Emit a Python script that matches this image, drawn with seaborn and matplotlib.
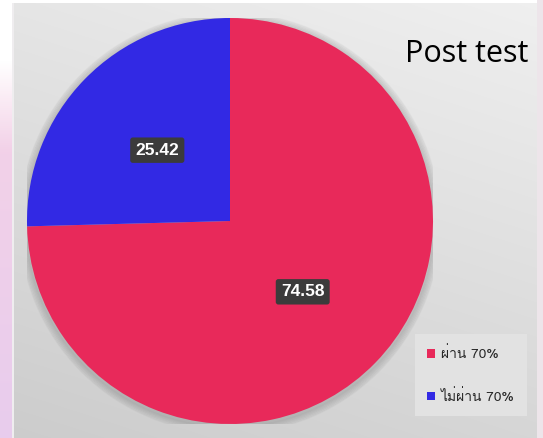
import numpy as np
import matplotlib
matplotlib.use("Agg")
import matplotlib.pyplot as plt
import seaborn as sns
from matplotlib import font_manager as fm
from matplotlib.ft2font import FT2Font
from matplotlib.patches import Circle

# ---- data ----
labels = ["ผ่าน 70%", "ไม่ผ่าน 70%"]
values = [74.58, 25.42]
colors = ["#E8295A", "#3229E4"]
title = "Post test"

sns.set_theme(style="white")

# find a font with Thai glyphs
thai_font = None
for f in fm.fontManager.ttflist:
    try:
        if 0x0E1C in FT2Font(f.fname).get_charmap():
            thai_font = f.name
            break
    except Exception:
        pass
legend_family = ([thai_font] if thai_font else []) + ["Liberation Sans", "DejaVu Sans"]
plt.rcParams["font.family"] = ["Liberation Sans", "DejaVu Sans"]

W, H = 543, 438
fig = plt.figure(figsize=(W / 100, H / 100), dpi=100)
fig.patch.set_facecolor("white")

# background panel (gray gradient) with pink strip on the left
bg = fig.add_axes([0, 0, 1, 1])
bg.set_axis_off()
yy, xx = np.mgrid[0:H, 0:W]
val = 0.80 + 0.10 * (1 - yy / H) + 0.04 * (xx / W)
img = np.dstack([val, val, val])
t = np.clip((yy[:, :12] - 60) / 90.0, 0, 1)[..., None]
s = (yy[:, :12] / H)[..., None]
pink = np.array([0.97, 0.83, 0.90]) * (1 - s) + np.array([0.91, 0.80, 0.93]) * s
img[:, :12] = (1 - t) * np.array([1.0, 1.0, 1.0]) + t * pink
img[:, 12:14] = np.array([0.94, 0.93, 0.94])
img[:3, :] = 1.0
img[:, 537:] = np.array([0.93, 0.90, 0.92])
bg.imshow(np.clip(img, 0, 1), extent=[0, W, H, 0], aspect="auto")
bg.set_xlim(0, W)
bg.set_ylim(H, 0)

# pie axes
cx, cy, r = 230, 221, 203
ax = fig.add_axes([(cx - r) / W, (H - cy - r) / H, 2 * r / W, 2 * r / H])
ax.set_axis_off()
for i in range(6):
    ax.add_patch(Circle((0.0, -0.01), 1.0 + 0.006 * (6 - i), color="black", alpha=0.025, zorder=0))
wedges, texts, autotexts = ax.pie(
    values, colors=colors, startangle=90, counterclock=False,
    autopct=lambda p: f"{p:.2f}", pctdistance=0.5,
    wedgeprops=dict(linewidth=0),
    textprops=dict(color="white", fontsize=12.5, fontweight="bold"),
)
for t_ in autotexts:
    t_.set_bbox(dict(boxstyle="round,pad=0.3,rounding_size=0.15", fc="#3B3B3B", ec="none"))
ax.set_xlim(-1, 1)
ax.set_ylim(-1, 1)
ax.set_aspect("equal")

fig.text(467 / W, 1 - 54 / H, title, ha="center", va="center",
         fontsize=22, family=["Open Sans", "DejaVu Sans"], color="black")

leg = fig.legend(wedges, labels, loc="center", bbox_to_anchor=(471 / W, 1 - 375 / H),
                 prop=dict(family=legend_family, size=10),
                 handlelength=0.6, handleheight=0.6, handletextpad=0.4,
                 labelspacing=2.0, borderpad=0.9, frameon=True, fancybox=False)
leg.get_frame().set_facecolor("#E2E2E2")
leg.get_frame().set_edgecolor("none")
leg.get_frame().set_alpha(1)

fig.savefig("out.png", dpi=100)
